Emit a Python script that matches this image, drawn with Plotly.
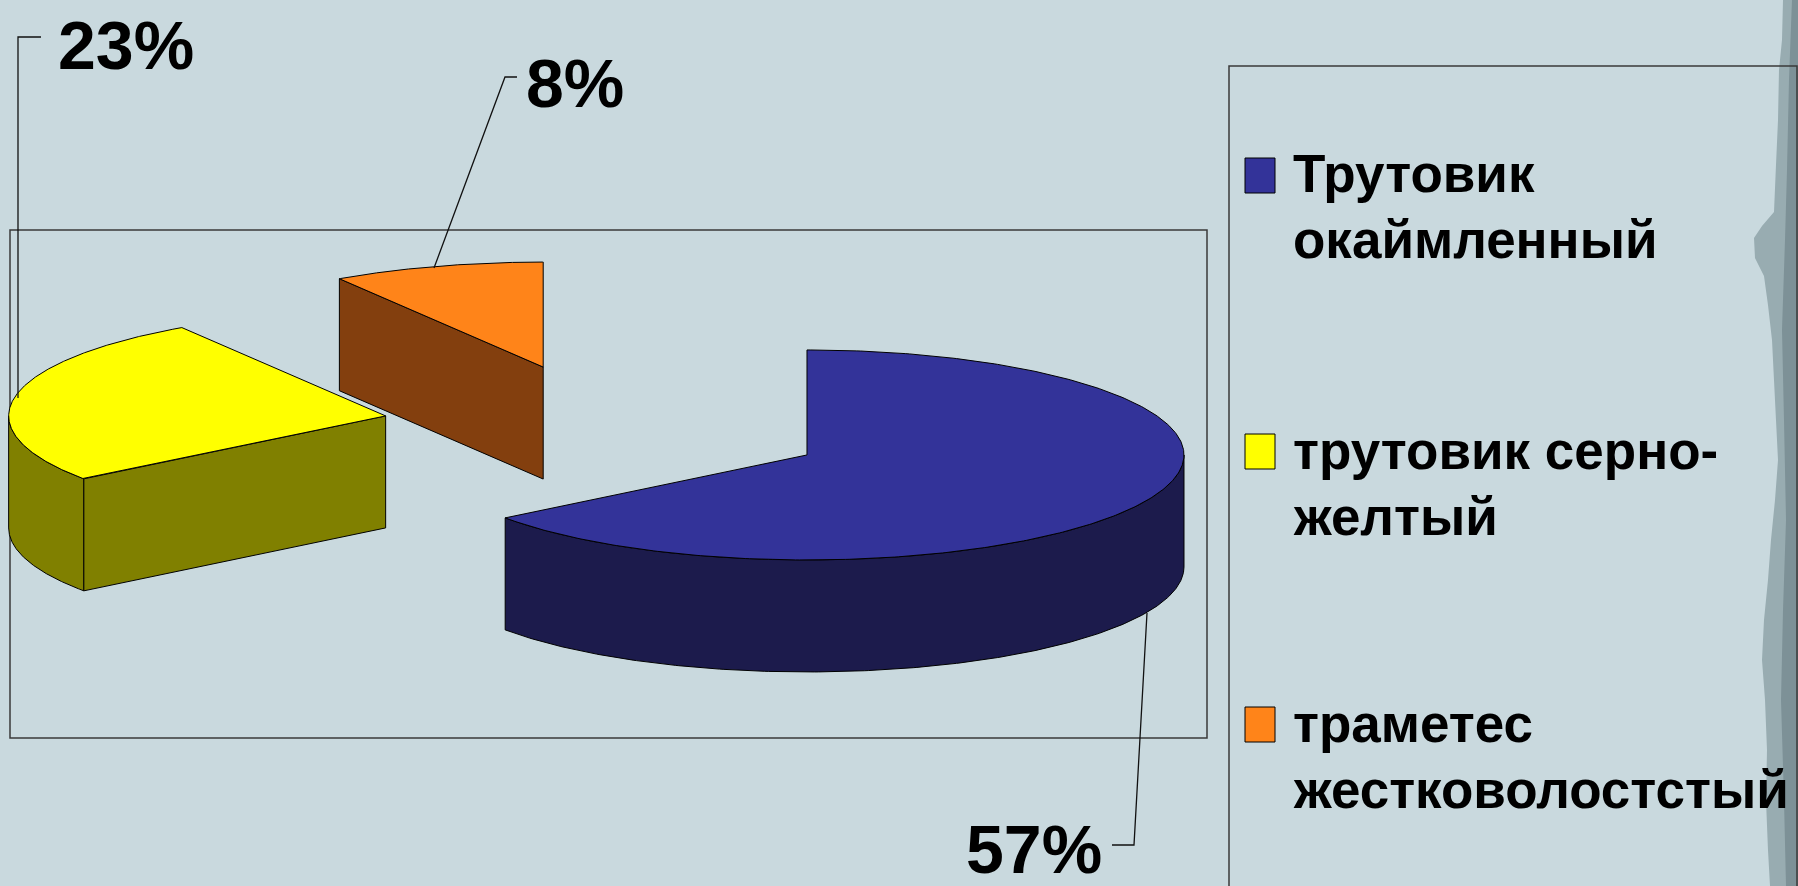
import numpy as np
import plotly.graph_objects as go

# ---- data -------------------------------------------------------------
species = ["Трутовик окаймленный", "трутовик серно-желтый", "траметес жестковолостстый"]
legend_lines = [["Трутовик", "окаймленный"], ["трутовик серно-", "желтый"], ["траметес", "жестковолостстый"]]
shares = [57, 23, 8]
top_colors = ["#333399", "#FFFF00", "#FF8419"]
side_colors = ["#1C1B4C", "#808000", "#833F0E"]

# ---- canvas / pie geometry ------------------------------------------
W, H = 1798, 886
R_PX = 377.0              # pie radius in pixels
CX, CY = 606.4, 427.0     # pie centre in pixels (from top-left)
TILT = 105.0 / R_PX       # vertical squash of the tilted disc
DEPTH = 112.0 / R_PX      # thickness of the disc
EXPLODE = 0.595           # radial pull of every slice
START = 90.0              # first slice starts at 12 o'clock, goes clockwise
BG = "#C9D9DE"
FONT = "Liberation Sans, Arial, sans-serif"


def proj(x, y, z=0.0):
    """Project a point of the 3-D disc onto the screen plane (data units)."""
    return x, y * TILT + z


def px2paper(x, y):
    return x / W, 1 - y / H


fig = go.Figure()

total = sum(shares)
slices = []
cum = 0.0
for i, v in enumerate(shares):
    span = 360.0 * v / total
    t1 = START - cum
    t2 = t1 - span
    cum += span
    mid = np.radians((t1 + t2) / 2)
    slices.append(dict(i=i, t1=t1, t2=t2, ox=EXPLODE * np.cos(mid), oy=EXPLODE * np.sin(mid),
                       depth_key=np.sin(mid)))


def add_poly(xs, ys, color, name):
    fig.add_trace(go.Scatter(
        x=list(xs) + [xs[0]], y=list(ys) + [ys[0]], mode="lines", fill="toself",
        fillcolor=color, line=dict(color="#000000", width=1),
        name=name, showlegend=False, hoverinfo="name"))


# draw back slices first
for s in sorted(slices, key=lambda d: -d["depth_key"]):
    i, t1, t2, ox, oy = s["i"], s["t1"], s["t2"], s["ox"], s["oy"]
    th = np.radians(np.linspace(t1, t2, 400))
    rx, ry = ox + np.cos(th), oy + np.sin(th)

    # outer wall: only the part facing the viewer
    front = np.sin(th) <= 1e-9
    runs, cur = [], []
    for k, f in enumerate(front):
        if f:
            cur.append(k)
        elif cur:
            runs.append(cur)
            cur = []
    if cur:
        runs.append(cur)
    for run in runs:
        if len(run) < 2:
            continue
        tx, ty = zip(*[proj(rx[k], ry[k], 0) for k in run])
        bx, by = zip(*[proj(rx[k], ry[k], -DEPTH) for k in run[::-1]])
        add_poly(tx + bx, ty + by, side_colors[i], species[i])

    # radial cut faces turned toward the viewer
    for ang, normal in ((t1, t1 + 90), (t2, t2 - 90)):
        if np.sin(np.radians(normal)) < -1e-6:
            ex, ey = ox + np.cos(np.radians(ang)), oy + np.sin(np.radians(ang))
            pts = [proj(ox, oy, 0), proj(ex, ey, 0), proj(ex, ey, -DEPTH), proj(ox, oy, -DEPTH)]
            add_poly([p[0] for p in pts], [p[1] for p in pts], side_colors[i], species[i])

    # top face
    pts = [proj(ox, oy, 0)] + [proj(a, b, 0) for a, b in zip(rx, ry)]
    add_poly([p[0] for p in pts], [p[1] for p in pts], top_colors[i], species[i])

# ---- decorations, frames and labels -----------------------------------
shapes = []


def px_path(points, close=True):
    body = " L ".join(f"{px2paper(x, y)[0]:.5f},{px2paper(x, y)[1]:.5f}" for x, y in points)
    return "M " + body + (" Z" if close else "")


# torn paper edge along the right border
edge = [(1783, 0), (1782, 40), (1779, 70), (1778, 120), (1776, 165), (1774, 212), (1762, 226),
        (1754, 238), (1755, 258), (1764, 276), (1768, 305), (1772, 340), (1774, 380),
        (1776, 420), (1778, 460), (1775, 500), (1771, 540), (1768, 580), (1764, 620),
        (1762, 660), (1765, 700), (1767, 750), (1766, 800), (1768, 850), (1770, 886),
        (1798, 886), (1798, 0)]
shapes.append(dict(type="path", xref="paper", yref="paper", path=px_path(edge),
                   fillcolor="#98ACB1", line=dict(width=0), layer="below"))
edge2 = [(1792, 0), (1789, 80), (1787, 170), (1785, 240), (1782, 330), (1784, 420), (1786, 520),
         (1783, 610), (1781, 700), (1784, 800), (1786, 886), (1798, 886), (1798, 0)]
shapes.append(dict(type="path", xref="paper", yref="paper", path=px_path(edge2),
                   fillcolor="#7D9197", line=dict(width=0), layer="below"))


def rect_px(x0, y0, x1, y1, **kw):
    a = px2paper(x0, y0)
    b = px2paper(x1, y1)
    return dict(type="rect", xref="paper", yref="paper", x0=a[0], y0=a[1], x1=b[0], y1=b[1], **kw)


# plot-area frame and legend frame
shapes.append(rect_px(10, 230, 1207, 738, line=dict(color="#3A3A3A", width=1.5), layer="below"))
shapes.append(rect_px(1229, 66, 1797, 920, line=dict(color="#3A3A3A", width=1.5), layer="below"))

# legend swatches + text
swatch_top = [158, 434, 707]
annotations = []
for i in range(len(species)):
    shapes.append(rect_px(1245, swatch_top[i], 1275, swatch_top[i] + 35,
                          fillcolor=top_colors[i], line=dict(color="#000000", width=1)))
    for j, line in enumerate(legend_lines[i]):
        base = swatch_top[i] + 35 + 66 * j
        xp, yp = px2paper(1291, base - 19)
        annotations.append(dict(x=xp, y=yp, xref="paper", yref="paper", text=line,
                                showarrow=False, xanchor="left", yanchor="middle",
                                font=dict(family=FONT, size=53, color="#000000", weight="bold")))

# percentage labels with their leader lines
label_pos = [(964, 849), (56, 45), (524, 83)]          # left edge / cap middle of each label
leaders = [[(1112, 845), (1134, 845), (1147, 613)],
           [(41, 37), (18, 37), (18, 398)],
           [(517, 77), (505, 77), (434, 268)]]
for i, v in enumerate(shares):
    xp, yp = px2paper(*label_pos[i])
    annotations.append(dict(x=xp, y=yp, xref="paper", yref="paper", text=f"{v}%",
                            showarrow=False, xanchor="left", yanchor="middle",
                            font=dict(family=FONT, size=68, color="#000000", weight="bold")))
    shapes.append(dict(type="path", xref="paper", yref="paper",
                       path=px_path(leaders[i], close=False),
                       line=dict(color="#111111", width=1.3)))

fig.update_layout(
    width=W, height=H, autosize=False,
    margin=dict(l=0, r=0, t=0, b=0, pad=0),
    paper_bgcolor=BG, plot_bgcolor=BG,
    xaxis=dict(range=[-CX / R_PX, (W - CX) / R_PX], visible=False, fixedrange=True),
    yaxis=dict(range=[-(H - CY) / R_PX, CY / R_PX], visible=False, fixedrange=True),
    shapes=shapes, annotations=annotations, showlegend=False,
)

fig.write_html("out.html", post_script="document.body.style.margin='0';",
               config={"displayModeBar": False})
